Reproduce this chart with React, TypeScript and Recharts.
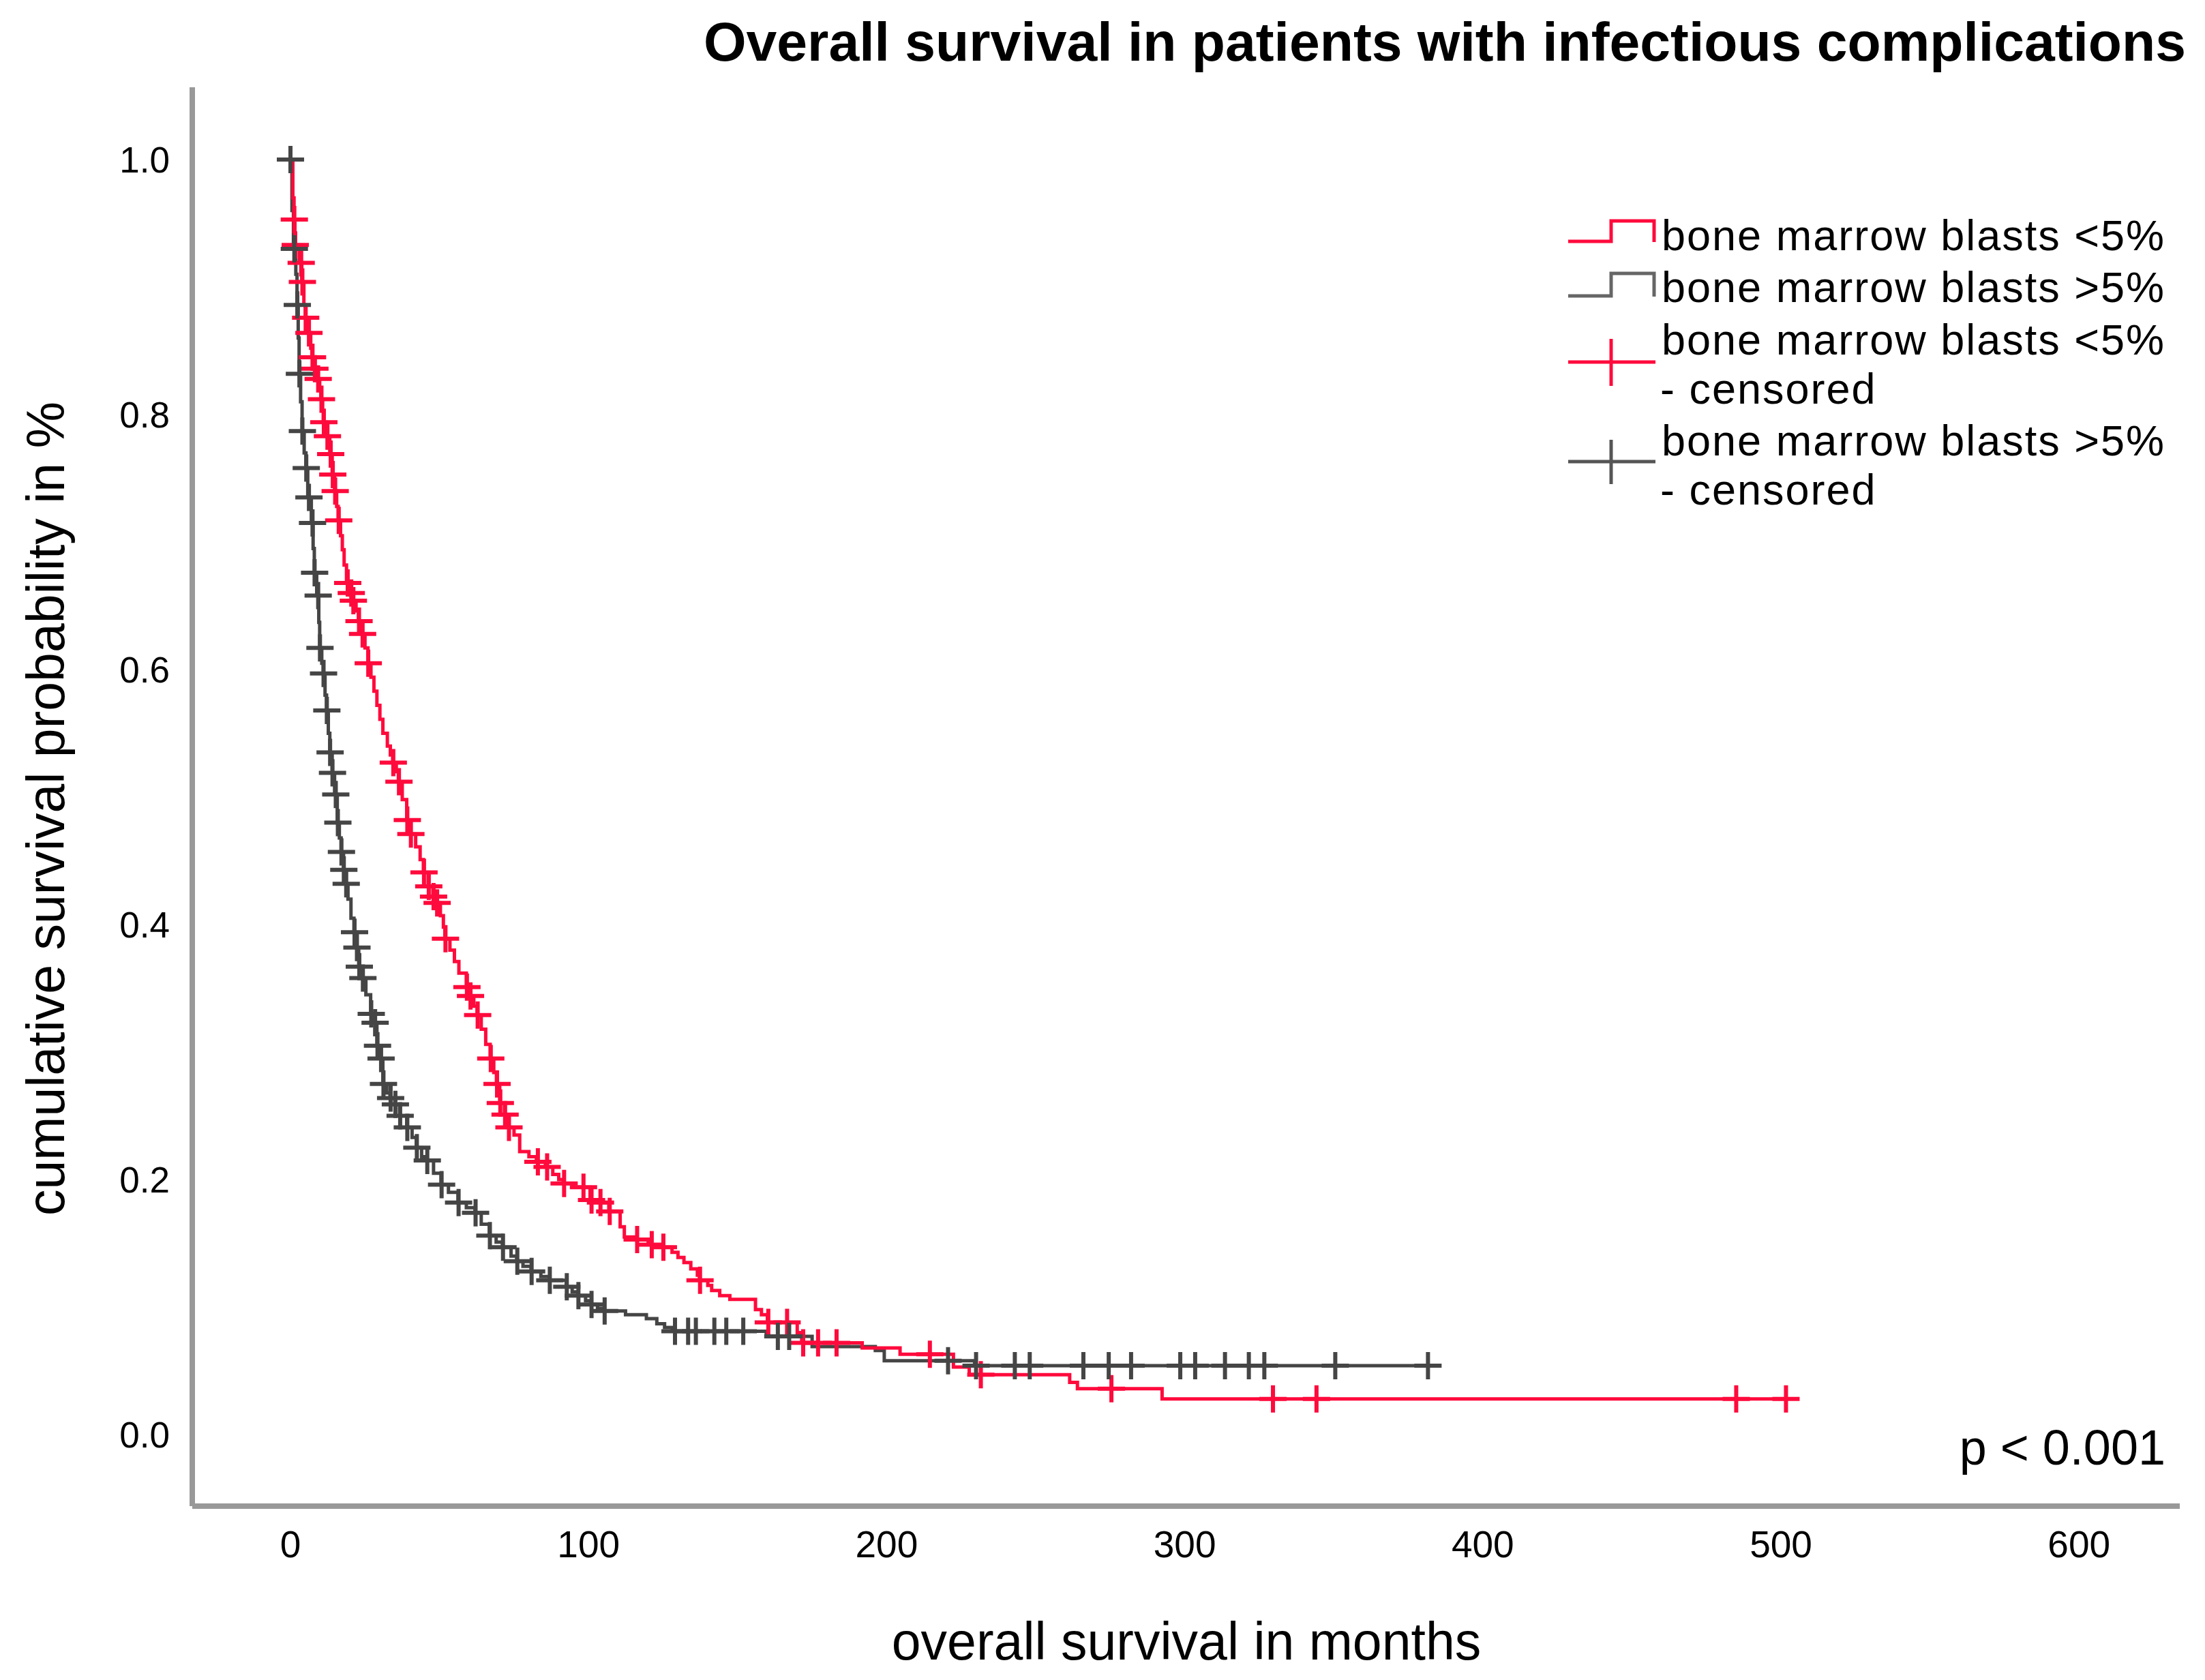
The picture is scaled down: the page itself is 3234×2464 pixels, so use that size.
import React from 'react';
import { ComposedChart, Line, Scatter, XAxis, YAxis } from 'recharts';

// ---- Data ----
const X_TICKS = [0, 100, 200, 300, 400, 500, 600];
const Y_TICKS = [0, 0.2, 0.4, 0.6, 0.8, 1.0];

const RED_NAME = 'bone marrow blasts <5%';
const GREY_NAME = 'bone marrow blasts >5%';

// Kaplan-Meier step curve, blasts <5%
const RED_T = [0, 0.8, 1.2, 1.5, 3, 3.8, 4.5, 5, 6, 6.8, 7.2, 8, 9, 9.8, 10.2, 10.8, 11, 12, 13.2, 14, 14.8, 15.5, 16, 16.8, 17.4, 18, 18.8, 20, 21, 22, 22.8, 24, 25, 26, 27, 28, 29, 30, 31, 32.5, 33.5, 34.3, 35.5, 36.2, 37.5, 39, 40.2, 42, 43.5, 44.6, 46.2, 47.8, 49, 50.3, 51.3, 51.8, 53.5, 55, 56.5, 59, 60.2, 61.5, 62.6, 64, 65.5, 67, 68.2, 69.1, 70.2, 71.8, 73.1, 75, 76.9, 80, 82.5, 85.5, 88, 90, 91.5, 95, 100.5, 103.5, 106.8, 110.6, 112, 115.5, 120, 124, 128, 130, 132, 134.3, 136.5, 137.2, 140, 141.3, 144, 147.4, 156, 158, 160, 170, 171.5, 191.8, 204.5, 222.4, 227.7, 261.4, 264, 292.4, 502];
const RED_S = [1.0, 0.97, 0.953, 0.933, 0.919, 0.904, 0.886, 0.876, 0.864, 0.852, 0.845, 0.836, 0.828, 0.82, 0.812, 0.803, 0.794, 0.783, 0.769, 0.753, 0.74, 0.728, 0.717, 0.705, 0.694, 0.682, 0.668, 0.66, 0.654, 0.646, 0.638, 0.628, 0.617, 0.605, 0.594, 0.583, 0.572, 0.561, 0.55, 0.54, 0.533, 0.527, 0.52, 0.512, 0.498, 0.482, 0.471, 0.461, 0.451, 0.441, 0.43, 0.422, 0.417, 0.407, 0.398, 0.389, 0.38, 0.371, 0.362, 0.351, 0.344, 0.336, 0.329, 0.318, 0.306, 0.295, 0.284, 0.275, 0.26, 0.251, 0.241, 0.235, 0.222, 0.218, 0.214, 0.21, 0.204, 0.2, 0.197, 0.194, 0.184, 0.182, 0.175, 0.163, 0.155, 0.153, 0.149, 0.147, 0.143, 0.139, 0.135, 0.13, 0.125, 0.121, 0.117, 0.113, 0.109, 0.106, 0.098, 0.094, 0.088, 0.08, 0.072, 0.068, 0.063, 0.053, 0.047, 0.041, 0.036, 0.028, 0.028];

// censored observations, blasts <5%
const RED_CENS_T = [0, 1.3, 1.6, 3.6, 4, 5.1, 6.2, 7.4, 8.2, 9.3, 10.4, 11.2, 12.4, 13.5, 14.2, 15, 16.2, 19.2, 20.4, 21.1, 23, 24.2, 26.1, 34.5, 36.4, 39.2, 40.4, 44.8, 46.4, 48, 49.2, 52, 59.2, 60.4, 62.8, 67.2, 69.3, 70.4, 72, 73.3, 83, 86.1, 91.8, 98.3, 101, 104, 107.1, 116.3, 121.2, 125.1, 137.4, 160.3, 166.6, 172, 177, 183.2, 214.5, 231.6, 275.4, 329.6, 344.2, 485, 501.7];
const RED_CENS_S = [1.0, 0.953, 0.933, 0.919, 0.904, 0.876, 0.864, 0.845, 0.836, 0.828, 0.812, 0.794, 0.783, 0.769, 0.753, 0.74, 0.717, 0.668, 0.66, 0.654, 0.638, 0.628, 0.605, 0.527, 0.512, 0.482, 0.471, 0.441, 0.43, 0.422, 0.417, 0.389, 0.351, 0.344, 0.329, 0.295, 0.275, 0.26, 0.251, 0.241, 0.214, 0.21, 0.197, 0.194, 0.184, 0.182, 0.175, 0.153, 0.149, 0.147, 0.121, 0.088, 0.088, 0.072, 0.072, 0.072, 0.063, 0.047, 0.036, 0.028, 0.028, 0.028, 0.028];

// Kaplan-Meier step curve, blasts >5%
const GREY_T = [0, 0.5, 1, 1.8, 2.2, 2.6, 2.9, 3.4, 3.9, 4.6, 5.2, 5.8, 7, 7.6, 8, 8.8, 9.5, 9.8, 10.5, 11, 11.6, 12.1, 12.7, 13.2, 14, 14.8, 15.7, 16.4, 17, 17.8, 18.5, 19.3, 20.3, 21.3, 22.1, 22.9, 24.1, 25.3, 26.9, 28.2, 29, 30.2, 31, 32.3, 33.4, 35, 36.6, 39, 40.8, 42.2, 44, 45.7, 48, 50.5, 53, 56.2, 59, 61.9, 64, 66.7, 69, 71.1, 74, 75.9, 78, 80.7, 84, 86.8, 92.5, 94.5, 96.4, 99, 100.8, 103, 105.2, 112.4, 119.4, 122.9, 125.5, 128, 159.6, 175, 196.2, 199.2, 229.5, 381.6];
const GREY_S = [1.0, 0.96, 0.93, 0.91, 0.886, 0.86, 0.832, 0.81, 0.787, 0.77, 0.758, 0.735, 0.715, 0.695, 0.676, 0.658, 0.637, 0.617, 0.605, 0.597, 0.58, 0.568, 0.55, 0.535, 0.519, 0.502, 0.48, 0.468, 0.457, 0.443, 0.432, 0.42, 0.405, 0.394, 0.382, 0.367, 0.358, 0.345, 0.33, 0.323, 0.305, 0.295, 0.275, 0.268, 0.264, 0.259, 0.25, 0.241, 0.233, 0.225, 0.218, 0.215, 0.205, 0.196, 0.19, 0.182, 0.178, 0.174, 0.165, 0.156, 0.151, 0.147, 0.14, 0.136, 0.132, 0.128, 0.124, 0.121, 0.116, 0.112, 0.109, 0.105, 0.102, 0.099, 0.097, 0.094, 0.091, 0.087, 0.084, 0.081, 0.077, 0.069, 0.066, 0.058, 0.054, 0.054];

// censored observations, blasts >5%
const GREY_CENS_T = [0, 1.3, 2.3, 3.0, 4.0, 5.3, 6.2, 7.4, 8.1, 9.3, 9.9, 11.1, 12.2, 13.3, 14.1, 15.2, 15.9, 17.1, 17.9, 18.7, 21.5, 22.3, 23.1, 24.3, 27.1, 28.4, 29.2, 30.4, 31.2, 33.6, 35.2, 36.8, 39.2, 42.4, 45.9, 50.7, 56.4, 62.1, 66.9, 71.3, 76.1, 80.9, 87, 92.7, 96.6, 101, 105.4, 129, 133.4, 136, 142.2, 146.2, 151.9, 163.5, 167.3, 220.6, 230, 243, 248, 266, 274.5, 282, 298.5, 303.5, 313.5, 321.5, 326.7, 350.5, 381.6];
const GREY_CENS_S = [1.0, 0.93, 0.886, 0.832, 0.787, 0.758, 0.735, 0.715, 0.676, 0.658, 0.617, 0.597, 0.568, 0.535, 0.519, 0.502, 0.48, 0.457, 0.443, 0.432, 0.394, 0.382, 0.367, 0.358, 0.33, 0.323, 0.305, 0.295, 0.275, 0.264, 0.259, 0.25, 0.241, 0.225, 0.215, 0.196, 0.182, 0.174, 0.156, 0.147, 0.136, 0.128, 0.121, 0.116, 0.109, 0.102, 0.097, 0.081, 0.081, 0.081, 0.081, 0.081, 0.081, 0.077, 0.077, 0.058, 0.054, 0.054, 0.054, 0.054, 0.054, 0.054, 0.054, 0.054, 0.054, 0.054, 0.054, 0.054, 0.054];

// ---- Build series tables ----
const toRows = (ts: number[], ss: number[]) => ts.map((t, i) => ({ t, s: ss[i] }));
const redLine = toRows(RED_T, RED_S);
const greyLine = toRows(GREY_T, GREY_S);
const redCens = toRows(RED_CENS_T, RED_CENS_S);
const greyCens = toRows(GREY_CENS_T, GREY_CENS_S);

const RED = '#ff0a3c';
const GREY = '#454545';
const FONT = '"Liberation Sans", Arial, sans-serif';

const W = 3218;
const H = 2448;

const makeCross = (color: string) => (props: any) => {
  const { cx, cy } = props;
  if (cx == null || cy == null) return <g />;
  const h = 20;
  return (
    <path
      d={`M${cx - h},${cy}H${cx + h}M${cx},${cy - h}V${cy + h}`}
      stroke={color}
      strokeWidth={6}
      fill="none"
    />
  );
};

export default function App() {
  return (
    <div style={{ position: 'relative', width: W, height: H }}>
      <ComposedChart
        width={W}
        height={H}
        margin={{ top: 120, right: 29, bottom: 97, left: 74 }}
      >
        <XAxis
          dataKey="t"
          type="number"
          domain={[-32.94, 633.8]}
          allowDataOverflow
          ticks={X_TICKS}
          interval={0}
          tickLine={false}
          tickSize={0}
          tickMargin={36}
          height={150}
          axisLine={{ stroke: '#999999', strokeWidth: 8 }}
          tick={{ fontSize: 55, fill: '#000', fontFamily: FONT }}
        />
        <YAxis
          type="number"
          domain={[-0.0561, 1.0567]}
          allowDataOverflow
          ticks={Y_TICKS}
          interval={0}
          tickFormatter={(v: number) => v.toFixed(1)}
          tickLine={false}
          tickSize={0}
          tickMargin={33}
          width={200}
          axisLine={{ stroke: '#999999', strokeWidth: 8 }}
          tick={{ fontSize: 53, fill: '#000', fontFamily: FONT }}
        />
        <Line
          name={GREY_NAME}
          data={greyLine}
          dataKey="s"
          type="stepAfter"
          stroke={GREY}
          strokeWidth={5}
          dot={false}
          activeDot={false}
          isAnimationActive={false}
        />
        <Line
          name={RED_NAME}
          data={redLine}
          dataKey="s"
          type="stepAfter"
          stroke={RED}
          strokeWidth={5}
          dot={false}
          activeDot={false}
          isAnimationActive={false}
        />
        <Scatter
          name={RED_NAME + ' - censored'}
          data={redCens}
          dataKey="s"
          shape={makeCross(RED)}
          isAnimationActive={false}
        />
        <Scatter
          name={GREY_NAME + ' - censored'}
          data={greyCens}
          dataKey="s"
          shape={makeCross(GREY)}
          isAnimationActive={false}
        />
      </ComposedChart>
      <svg
        width={W}
        height={H}
        style={{ position: 'absolute', left: 0, top: 0, pointerEvents: 'none' }}
      >
        <text
          x={3198}
          y={81}
          textAnchor="end"
          fontFamily={FONT}
          fontWeight="bold"
          fontSize={80.5}
          fill="#000"
        >
          Overall survival in patients with infectious complications
        </text>
        <text
          x={1732}
          y={2426}
          textAnchor="middle"
          fontFamily={FONT}
          fontSize={77}
          fill="#000"
        >
          overall survival in months
        </text>
        <text
          transform="translate(86,1178) rotate(-90)"
          textAnchor="middle"
          fontFamily={FONT}
          fontSize={77}
          fill="#000"
        >
          cumulative survival probability in %
        </text>
        <text
          x={3168}
          y={2140}
          textAnchor="end"
          fontFamily={FONT}
          fontSize={72}
          fill="#000"
        >
          p &lt; 0.001
        </text>
        {/* legend */}
        <g fontFamily={FONT} fontSize={63} letterSpacing={2} fill="#000">
          <path d="M2292,346H2355V316H2418V347" stroke={RED} strokeWidth={5} fill="none" />
          <text x={2429} y={359}>{RED_NAME}</text>
          <path d="M2292,426H2355V393H2418V427" stroke="#666" strokeWidth={5} fill="none" />
          <text x={2429} y={435}>{GREY_NAME}</text>
          <path d="M2292,523H2420M2355,489V558" stroke={RED} strokeWidth={5} fill="none" />
          <text x={2429} y={512}>{RED_NAME}</text>
          <text x={2427} y={584}>- censored</text>
          <path d="M2292,669H2420M2355,637V702" stroke="#555" strokeWidth={5} fill="none" />
          <text x={2429} y={660}>{GREY_NAME}</text>
          <text x={2427} y={732}>- censored</text>
        </g>
      </svg>
    </div>
  );
}
